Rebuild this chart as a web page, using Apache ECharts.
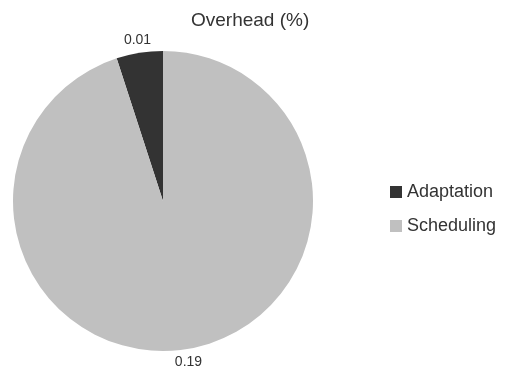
<!DOCTYPE html>
<html>
<head>
<meta charset="utf-8">
<script src="https://cdn.jsdelivr.net/npm/echarts@6/dist/echarts.min.js"></script>
<style>
  html, body { margin: 0; padding: 0; background: #fff; }
  #main { width: 512px; height: 374px; }
</style>
</head>
<body>
<div id="main"></div>
<script>
var names = ['Adaptation', 'Scheduling'];
var values = [0.01, 0.19];
var colors = ['#333333', '#c0c0c0'];

var pieData = names.map(function (n, i) {
    return { name: n, value: values[i], itemStyle: { color: colors[i] } };
});
// invisible ring just outside the pie, only used to place the value labels
var labelData = names.map(function (n, i) {
    return { name: n, value: values[i], itemStyle: { color: 'rgba(0,0,0,0)' } };
});

var myChart = echarts.init(document.getElementById('main'));
var option = {
    backgroundColor: '#fff',
    textStyle: { fontFamily: 'Liberation Sans, Arial, sans-serif' },
    title: {
        text: 'Overhead (%)',
        left: 186,
        top: 6,
        textStyle: { color: '#333', fontSize: 19, fontWeight: 'normal' }
    },
    legend: {
        orient: 'vertical',
        left: 385,
        top: 178,
        icon: 'rect',
        itemWidth: 12,
        itemHeight: 12,
        itemGap: 16,
        data: names,
        textStyle: { color: '#333', fontSize: 18 }
    },
    series: [
        {
            type: 'pie',
            center: [163, 201],
            radius: [0, 150],
            startAngle: 90,
            clockwise: false,
            silent: true,
            label: { show: false },
            labelLine: { show: false },
            data: pieData
        },
        {
            type: 'pie',
            center: [163, 201],
            radius: [150, 170],
            startAngle: 90,
            clockwise: false,
            silent: true,
            legendHoverLink: false,
            label: {
                show: true,
                position: 'inside',
                color: '#333',
                fontSize: 14,
                formatter: function (p) { return p.value.toFixed(2); }
            },
            labelLine: { show: false },
            data: labelData
        }
    ]
};
myChart.setOption(option);
</script>
</body>
</html>
